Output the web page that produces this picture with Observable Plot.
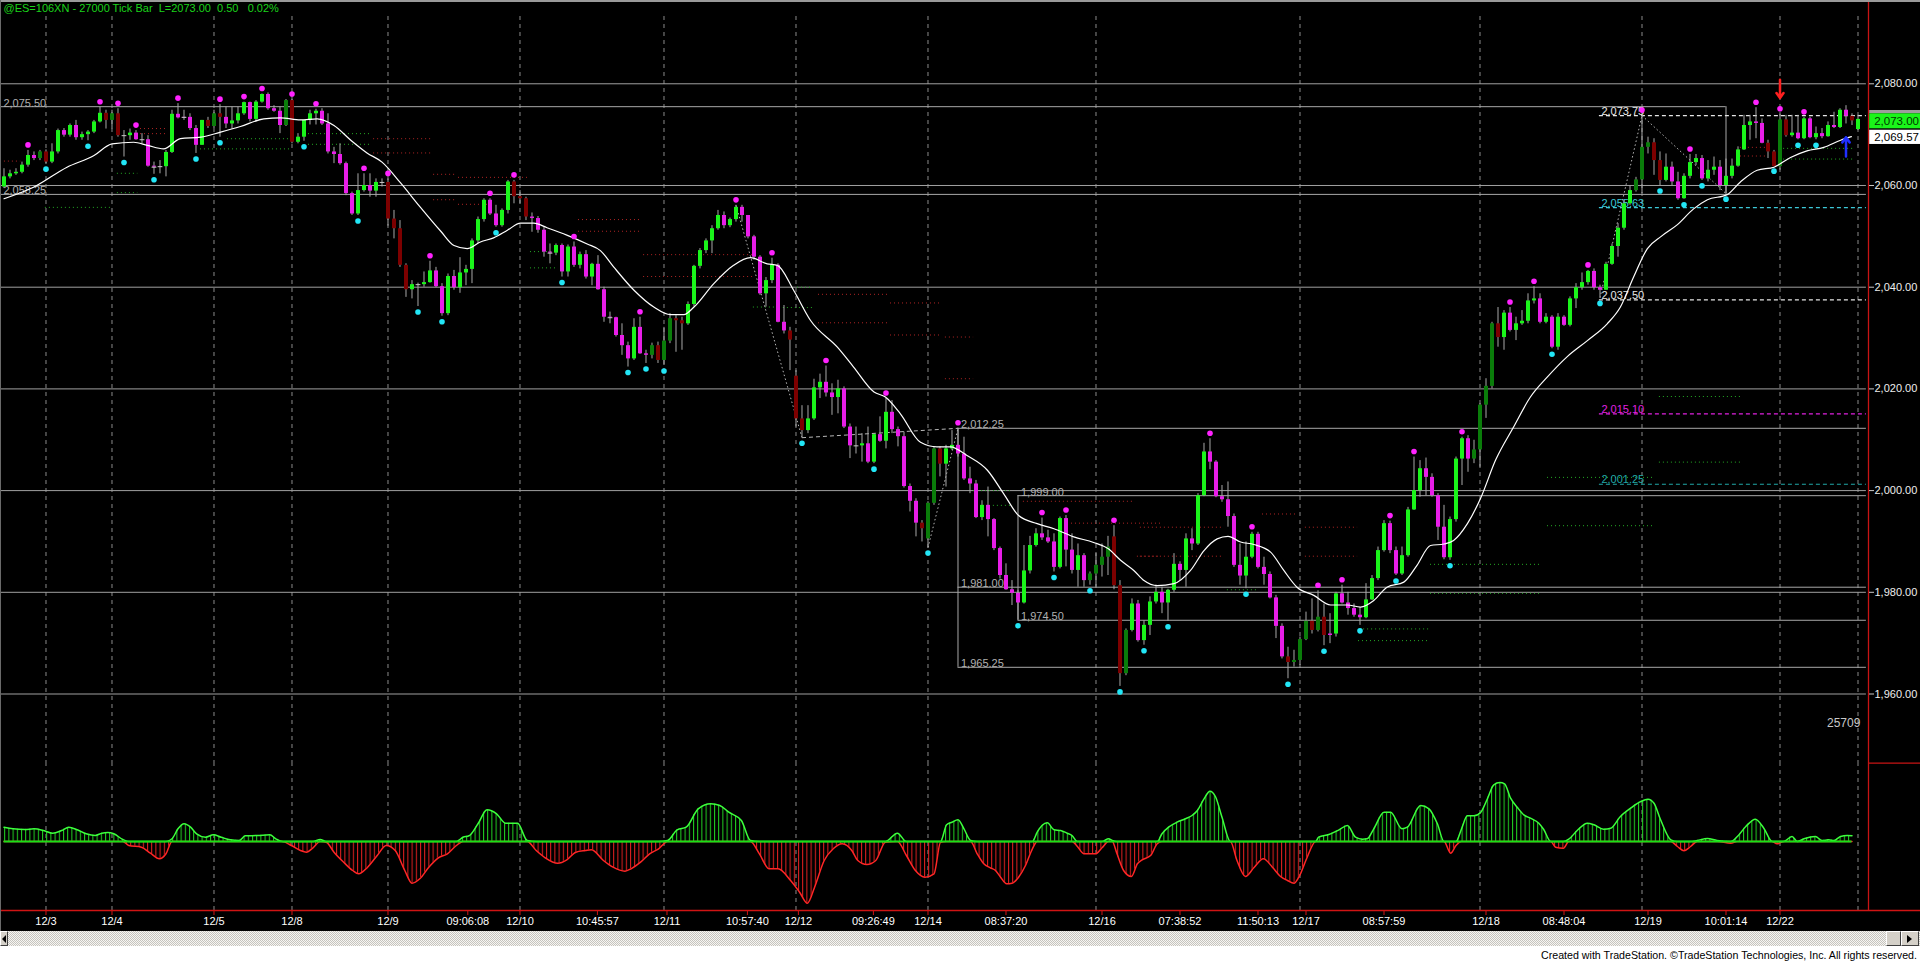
<!DOCTYPE html>
<html>
<head>
<meta charset="utf-8">
<title>@ES=106XN - 27000 Tick Bar</title>
<script src="https://cdn.jsdelivr.net/npm/d3@7"></script>
<script src="https://cdn.jsdelivr.net/npm/@observablehq/plot@0.6"></script>
<style>
  html, body { margin: 0; padding: 0; background: #000; }
  #wrap { position: relative; width: 1920px; height: 962px; background: #000; overflow: hidden; font-family: "Liberation Sans", Arial, sans-serif; }
  #price { position: absolute; left: 0; top: 0; }
  #osc { position: absolute; left: 0; top: 762px; }
  #topline { position: absolute; left: 0; top: 0; width: 1920px; height: 2px; background: #9a9a9a; }
  #leftline { position: absolute; left: 0; top: 0; width: 1px; height: 931px; background: #6a6a6a; }
  #scroll { position: absolute; left: 0; top: 931px; width: 1920px; height: 15px; background-color: #e8e6e0;
            background-image: repeating-conic-gradient(#c6c4be 0% 25%, #f6f5f2 0% 50%); background-size: 2px 2px; }
  .btn { position: absolute; top: 0; height: 13px; background: #d4d0c8; border-top: 1px solid #fff; border-left: 1px solid #fff;
         border-right: 1px solid #404040; border-bottom: 1px solid #404040; box-sizing: content-box; }
  .tri-r { position: absolute; left: 5px; top: 3px; width: 0; height: 0; border-top: 4px solid transparent; border-bottom: 4px solid transparent; border-left: 5px solid #000; }
  .tri-l { position: absolute; left: 1px; top: 3px; width: 0; height: 0; border-top: 4px solid transparent; border-bottom: 4px solid transparent; border-right: 4px solid #000; }
  #foot { position: absolute; left: 0; top: 946px; width: 1920px; height: 16px; background: #fff; }
</style>
</head>
<body>
<div id="wrap">
  <div id="price"></div>
  <div id="osc"></div>
  <div id="topline"></div>
  <div id="leftline"></div>
  <div id="scroll">
    <div class="btn" style="left:0;width:6px;"><div class="tri-l"></div></div>
    <div class="btn" style="left:1886px;width:13px;"></div>
    <div class="btn" style="left:1901px;width:16px;"><div class="tri-r"></div></div>
  </div>
  <div id="foot">
    <svg width="1920" height="16">
      <text x="1917" y="13" text-anchor="end" font-family="Liberation Sans, Arial, sans-serif" font-size="11.5" fill="#000"
            textLength="376" lengthAdjust="spacingAndGlyphs">Created with TradeStation. ©TradeStation Technologies, Inc. All rights reserved.</text>
    </svg>
  </div>
</div>
<script>
// ---------------- DATA ----------------
const titleText = "@ES=106XN - 27000 Tick Bar\u00a0\u00a0L=2073.00\u00a0\u00a00.50\u00a0\u00a0\u00a00.02%";
const lastPrice = 2073.00;
const maLast = 2069.57;
const volumeLabel = "25709";

const opens = [
2059.7,2061.7,2062.3,2062.6,2064.0,2065.9,2065.3,2066.6,2064.6,2066.6,
2070.8,2069.9,2071.8,2069.4,2070.0,2070.5,2072.5,2074.2,2072.8,2074.1,
2069.8,2069.8,2070.3,2069.0,2069.0,2063.8,2063.6,2063.7,2066.5,2074.0,
2073.3,2073.4,2071.2,2067.9,2072.8,2071.6,2074.1,2073.4,2072.1,2072.7,
2074.1,2076.3,2073.0,2076.4,2077.9,2075.1,2074.6,2071.8,2076.7,2068.5,
2069.5,2072.8,2074.1,2074.6,2072.1,2066.6,2066.1,2064.3,2058.4,2054.4,
2059.0,2060.0,2058.9,2060.6,2060.6,2053.4,2051.5,2044.3,2039.5,2040.5,
2040.5,2040.9,2043.2,2040.1,2034.8,2042.1,2039.9,2042.8,2043.5,2049.1,
2053.3,2057.1,2054.4,2052.1,2055.1,2060.7,2057.8,2057.4,2053.8,2053.5,
2051.2,2046.9,2046.7,2048.2,2043.0,2047.9,2044.3,2046.4,2042.0,2044.5,
2039.5,2034.1,2034.0,2030.5,2028.5,2025.9,2032.1,2026.9,2026.6,2028.5,
2025.6,2029.4,2033.8,2033.4,2032.8,2036.6,2044.1,2047.2,2049.1,2051.5,
2054.1,2052.1,2053.3,2055.7,2054.1,2049.9,2045.9,2038.7,2041.3,2044.3,
2033.1,2031.4,2022.5,2014.1,2011.8,2014.1,2020.2,2021.3,2019.2,2018.3,
2020.0,2012.5,2008.8,2008.8,2009.2,2005.6,2011.0,2009.7,2015.4,2012.0,
2010.6,2000.8,1997.9,1993.6,1990.5,1997.5,2008.2,2005.2,2008.2,2008.9,
2007.2,2002.3,2001.3,1994.7,1997.1,1994.3,1988.6,1983.3,1980.5,1979.8,
1977.9,1984.2,1989.2,1991.5,1990.7,1989.9,1984.9,1994.5,1988.3,1984.3,
1987.2,1982.3,1983.6,1985.3,1986.9,1990.9,1981.3,1964.0,1972.5,1977.7,
1970.5,1973.5,1978.1,1980.0,1977.9,1980.4,1985.5,1984.3,1990.5,1989.5,
1999.0,2007.6,2005.6,1998.8,1998.2,1994.9,1985.3,1983.2,1986.9,1991.4,
1984.9,1983.5,1978.9,1973.3,1967.3,1966.2,1966.6,1970.7,1974.3,1972.5,
1975.1,1971.5,1971.8,1979.7,1977.9,1976.8,1975.5,1975.0,1978.5,1982.7,
1988.2,1993.5,1988.2,1983.6,1987.2,1996.2,2000.0,2004.3,2002.6,1999.0,
1992.8,1986.8,1994.3,2006.2,2010.2,2006.2,2008.0,2016.8,2020.5,2032.8,
2030.1,2034.9,2031.5,2032.8,2033.3,2037.3,2037.7,2033.1,2034.1,2028.2,
2034.1,2032.5,2037.7,2039.9,2040.9,2043.1,2039.9,2039.4,2044.5,2048.0,
2051.6,2056.4,2059.0,2061.1,2067.5,2068.4,2064.9,2061.0,2063.6,2060.7,
2057.4,2061.8,2064.5,2065.3,2061.3,2063.0,2063.6,2060.0,2061.8,2063.8,
2067.0,2071.8,2072.5,2072.2,2068.3,2066.6,2063.7,2072.9,2069.8,2070.3,
2069.2,2073.1,2069.4,2070.2,2069.6,2071.8,2071.4,2074.8,2073.6,2071.0];

const highs = [
2063.3,2063.0,2063.3,2064.6,2066.9,2066.6,2066.9,2067.0,2068.2,2071.1,
2071.2,2072.1,2072.8,2070.5,2070.8,2072.8,2075.4,2074.8,2074.8,2075.1,
2070.8,2071.1,2070.8,2070.2,2069.8,2064.6,2064.9,2066.9,2074.8,2076.1,
2074.8,2074.1,2071.8,2072.8,2073.4,2074.8,2075.9,2075.4,2075.4,2075.4,
2076.4,2076.4,2076.7,2078.0,2078.2,2075.7,2075.4,2076.9,2076.9,2070.2,
2072.8,2074.8,2075.0,2075.1,2074.1,2067.5,2068.2,2064.6,2058.7,2062.3,
2062.3,2062.3,2061.3,2061.3,2061.3,2055.1,2053.1,2044.6,2041.3,2040.8,
2043.0,2045.1,2043.9,2040.7,2042.6,2043.3,2045.8,2044.3,2049.5,2053.8,
2057.4,2057.4,2056.1,2055.4,2061.0,2061.0,2059.0,2057.7,2054.6,2053.9,
2051.8,2048.5,2048.5,2048.5,2048.3,2048.9,2046.9,2047.2,2044.7,2046.2,
2040.0,2035.1,2034.1,2032.8,2029.2,2033.8,2034.1,2027.6,2029.0,2029.2,
2032.1,2034.8,2034.4,2034.1,2037.1,2044.3,2047.6,2049.5,2052.1,2055.1,
2054.8,2053.6,2056.1,2056.1,2054.1,2050.2,2046.2,2041.9,2045.7,2044.6,
2036.4,2032.1,2023.6,2016.7,2016.7,2021.9,2022.9,2024.5,2021.0,2021.7,
2020.4,2013.1,2012.5,2011.2,2012.5,2011.2,2014.5,2018.1,2017.7,2012.5,
2011.5,2001.3,1998.4,1994.1,1997.8,2008.6,2008.6,2008.9,2011.8,2012.25,
2010.5,2004.6,2002.0,1998.0,2000.7,1994.5,1988.9,1985.6,1982.3,1980.4,
1989.2,1991.0,1992.5,1994.6,1992.2,1991.5,1994.8,1995.1,1991.5,1989.5,
1987.6,1984.0,1987.6,1989.5,1991.0,1993.1,1982.3,1972.8,1978.7,1978.4,
1974.4,1979.1,1981.4,1981.0,1980.6,1987.6,1986.0,1991.5,1992.5,1999.4,
2009.3,2010.2,2005.9,2001.0,2001.7,1995.4,1989.5,1989.9,1991.8,1991.8,
1986.9,1984.0,1979.4,1973.8,1969.2,1968.6,1971.2,1976.1,1978.7,1980.3,
1977.7,1975.8,1980.0,1981.4,1980.0,1977.7,1977.0,1981.7,1983.3,1988.9,
1994.1,1994.0,1988.9,1988.9,1996.7,2006.6,2005.9,2006.4,2003.3,1999.4,
1997.1,1994.8,2006.6,2010.5,2010.8,2009.9,2017.1,2022.0,2033.1,2036.0,
2035.4,2036.0,2034.1,2035.4,2038.7,2040.1,2038.7,2034.8,2034.4,2034.8,
2034.4,2038.1,2040.7,2042.8,2043.3,2043.6,2040.4,2044.9,2048.5,2052.5,
2057.1,2060.0,2061.6,2073.75,2069.5,2069.2,2066.6,2066.2,2064.6,2062.6,
2062.3,2066.1,2066.1,2065.9,2064.9,2065.6,2064.9,2065.2,2065.2,2067.6,
2073.8,2073.8,2075.3,2073.1,2068.9,2066.9,2074.0,2073.8,2073.8,2073.8,
2073.4,2073.4,2071.5,2071.2,2072.5,2074.4,2075.1,2075.7,2074.1,2073.8];

const lows = [
2059.4,2061.3,2062.0,2062.3,2063.6,2064.9,2064.9,2064.3,2064.3,2066.2,
2069.5,2069.5,2068.9,2068.9,2068.8,2070.2,2072.3,2071.1,2071.1,2069.5,
2065.6,2068.9,2068.9,2068.2,2063.6,2062.2,2062.3,2061.7,2066.3,2073.1,
2072.8,2070.8,2066.3,2067.9,2071.2,2071.2,2069.5,2071.2,2071.1,2072.1,
2073.8,2072.5,2072.5,2076.2,2074.8,2074.4,2070.2,2071.6,2068.2,2068.2,
2068.7,2071.9,2071.9,2071.8,2066.2,2064.3,2064.0,2058.0,2054.1,2054.1,
2058.7,2057.7,2057.7,2059.7,2052.0,2049.5,2043.9,2038.0,2037.7,2036.2,
2040.0,2040.8,2039.9,2034.3,2034.4,2039.4,2038.8,2040.3,2040.7,2048.5,
2052.8,2054.1,2051.8,2051.8,2054.4,2056.4,2056.4,2053.1,2050.8,2050.6,
2045.9,2044.6,2046.2,2042.0,2042.0,2043.9,2043.6,2041.6,2040.3,2039.4,
2033.1,2032.8,2030.2,2026.6,2024.3,2025.6,2026.8,2025.0,2025.9,2025.0,
2024.6,2028.9,2027.2,2027.6,2032.5,2036.1,2043.6,2046.6,2046.6,2051.2,
2051.5,2051.7,2052.8,2052.8,2049.5,2045.3,2038.4,2036.1,2040.7,2033.0,
2030.8,2023.6,2012.5,2010.4,2011.2,2013.8,2018.1,2018.4,2014.8,2015.1,
2012.2,2006.3,2007.2,2005.6,2005.3,2005.3,2009.5,2008.2,2011.2,2008.6,
2000.5,1995.8,1990.9,1989.9,1988.8,1997.1,2002.7,2000.7,2007.9,2006.6,
2002.0,1999.4,1994.5,1994.1,1990.9,1988.2,1982.6,1980.4,1977.4,1974.5,
1977.7,1983.6,1988.9,1990.2,1989.6,1984.0,1984.6,1985.0,1983.6,1981.0,
1981.0,1981.4,1981.0,1983.0,1983.3,1980.5,1961.5,1963.6,1972.2,1970.2,
1969.6,1971.5,1977.7,1975.8,1974.3,1980.0,1982.3,1981.0,1988.2,1989.2,
1998.8,2004.1,1998.6,1997.7,1992.8,1984.9,1981.4,1980.7,1986.6,1984.6,
1981.4,1978.7,1970.9,1966.9,1963.0,1965.3,1965.6,1970.5,1971.8,1972.2,
1969.5,1969.9,1971.2,1977.7,1975.5,1975.1,1973.5,1974.8,1978.4,1982.3,
1987.9,1987.6,1983.3,1983.3,1986.9,1996.1,1998.7,1999.0,1998.7,1990.2,
1986.4,1986.3,1993.8,2001.0,2003.6,2005.3,2004.6,2014.2,2020.0,2028.2,
2027.6,2031.2,2029.5,2032.5,2032.8,2036.7,2032.8,2032.8,2027.9,2027.6,
2032.3,2032.2,2035.8,2039.4,2040.4,2039.4,2037.9,2039.4,2044.3,2045.9,
2051.2,2056.1,2058.7,2058.4,2066.2,2062.0,2060.0,2060.7,2060.0,2057.1,
2057.3,2061.3,2063.9,2061.0,2060.7,2062.0,2059.0,2058.4,2061.3,2063.6,
2066.9,2068.9,2069.2,2068.2,2065.3,2063.9,2063.0,2069.5,2069.5,2069.0,
2069.0,2069.2,2069.0,2069.2,2069.5,2071.2,2071.2,2072.1,2071.8,2070.8];

const closes = [
2061.7,2062.3,2062.6,2064.0,2065.9,2065.3,2066.6,2064.6,2066.6,2070.8,
2069.9,2071.8,2069.4,2070.0,2070.5,2072.5,2074.2,2072.8,2074.1,2069.8,
2069.8,2070.3,2069.0,2069.0,2063.8,2063.6,2063.7,2066.5,2074.0,2073.3,
2073.4,2071.2,2067.9,2072.8,2071.6,2074.1,2073.4,2072.1,2072.7,2074.1,
2076.3,2073.0,2076.4,2077.9,2075.1,2074.6,2071.8,2076.7,2068.5,2069.5,
2072.8,2074.1,2074.6,2072.1,2066.6,2066.1,2064.3,2058.4,2054.4,2059.0,
2060.0,2058.9,2060.6,2060.6,2053.4,2051.5,2044.3,2039.5,2040.5,2040.5,
2040.9,2043.2,2040.1,2034.8,2042.1,2039.9,2042.8,2043.5,2049.1,2053.3,
2057.1,2054.4,2052.1,2055.1,2060.7,2057.8,2057.4,2053.8,2053.5,2051.2,
2046.9,2046.7,2048.2,2043.0,2047.9,2044.3,2046.4,2042.0,2044.5,2039.5,
2034.1,2034.0,2030.5,2028.5,2025.9,2032.1,2026.9,2026.6,2028.5,2025.6,
2029.4,2033.8,2033.4,2032.8,2036.6,2044.1,2047.2,2049.1,2051.5,2054.1,
2052.1,2053.3,2055.7,2054.1,2049.9,2045.9,2038.7,2041.3,2044.3,2033.1,
2031.4,2029.6,2014.1,2011.8,2014.1,2020.2,2021.3,2019.2,2018.3,2020.0,
2012.5,2008.8,2008.8,2009.2,2005.6,2011.0,2009.7,2015.4,2012.0,2010.6,
2000.8,1997.9,1993.6,1992.5,1997.5,2008.2,2005.2,2008.2,2008.9,2007.2,
2002.3,2001.3,1994.7,1997.1,1994.3,1988.6,1983.3,1980.5,1979.8,1977.9,
1984.2,1989.2,1991.5,1990.7,1989.9,1984.9,1994.5,1988.3,1984.3,1987.2,
1982.3,1983.6,1985.3,1986.9,1988.9,1981.3,1964.0,1972.5,1977.7,1970.5,
1973.5,1978.1,1980.0,1977.9,1980.4,1985.5,1984.3,1990.5,1989.5,1999.0,
2007.6,2005.6,1998.8,1998.2,1994.9,1985.3,1983.2,1986.9,1991.4,1984.9,
1983.5,1978.9,1973.3,1967.3,1966.2,1966.6,1970.7,1974.3,1972.5,1975.1,
1971.5,1971.8,1979.7,1977.9,1976.8,1975.5,1975.0,1978.5,1982.7,1988.2,
1993.5,1988.2,1983.6,1987.2,1996.2,2000.0,2004.3,2002.6,1999.0,1992.8,
1986.8,1994.3,2006.2,2010.2,2006.2,2008.0,2016.8,2020.5,2032.8,2030.1,
2034.9,2031.5,2032.8,2033.3,2037.3,2037.7,2033.1,2034.1,2028.2,2034.1,
2032.5,2037.7,2039.9,2040.9,2043.1,2039.9,2039.4,2044.5,2048.0,2051.6,
2056.4,2059.0,2061.1,2067.5,2068.4,2064.9,2061.0,2063.6,2060.7,2057.4,
2061.8,2064.5,2065.3,2061.3,2063.0,2063.6,2060.0,2061.8,2063.8,2067.0,
2071.8,2072.5,2072.2,2068.3,2066.6,2063.7,2072.9,2069.8,2070.3,2069.2,
2073.1,2069.4,2070.2,2069.6,2071.8,2071.4,2074.8,2073.6,2072.7,2073.0];

// candle colour codes: G bright green, M magenta, g dark green, r dark red
const candleColorRows = [
"GGGGGMgrGG","MGMGGGGrgr","MGMMMMMGGM","MMMGrgrMGG","GMGGMMMgrG",
"GGGMMMMMMG","GMGMrrrrGM","GGMMGMGGGG","GMMGGrrrMM","MMGMGMGMGM",
"MMMMMGMMgr","ggrrGGGGGG","MGGMMMMGGM","MrrrGGGMMG","MMMGMGMGMM",
"MMMrggrGGM","MMMGMMMMMM","GGGMMMGMMG","MggggrrgGM","GGGMGGMGMG",
"GMMMMMMGGM","MMMMrgggrg","rMGMMMMGGG","GMMGGGGMMM","MGGGMggggr",
"GMGGGGMGMG","MGGGGMMGGG","GGgggrrGMM","GGGMGGMGGG","GGMMrrgrGM",
"GMGMGMGMrG"];

// swing-high (magenta) and swing-low (cyan) marker bars
const swingHighBars = [4,16,19,22,29,36,40,43,48,52,60,64,71,81,85,95,106,122,128,137,147,159,173,177,185,201,208,219,223,231,235,243,251,255,264,273,281,292,296,300];
const swingLowBars = [7,14,20,25,32,36,50,59,69,73,82,93,104,107,110,133,145,154,169,175,181,186,190,194,207,214,220,226,232,241,258,266,276,280,283,287,295,299,302];

// white moving average [bar, price]
const movingAverage = [
[0,2057.4],[5,2059.7],[10.5,2063.6],[15,2065.9],[18,2068.2],[21.6,2068.5],[23.9,2067.9],[26.6,2067.2],[29.4,2069.2],[32.8,2069.5],
[36.1,2070.5],[39.4,2071.6],[43.3,2073.1],[46.1,2073.3],[49.4,2072.9],[52.2,2073.1],[55,2071.8],[57.8,2068.9],[60.5,2066.4],[63,2064.6],
[66.1,2060.5],[69.2,2056],[72.8,2051],[75,2048.2],[77.2,2047.6],[79.4,2048.9],[81.6,2049.7],[83.9,2051.2],[86.1,2052.6],[88.3,2052.6],
[90.5,2051.7],[93.9,2050.2],[97.2,2048.5],[99.4,2047.2],[101.6,2044],[105,2039.4],[108.3,2036.1],[111.1,2034.6],[113.3,2034.6],[115,2036.1],
[118.3,2040.7],[121.6,2044.3],[124.4,2045.8],[127.2,2044.6],[128.9,2044.3],[131.6,2039.4],[134.4,2033.5],[138.9,2028.2],[141.6,2024.3],[145,2019.4],
[146.9,2018.4],[149.4,2015.1],[152.75,2009.5],[155.5,2008.6],[157.75,2008.6],[160.5,2006.9],[163.9,2004],[166.6,1999.4],[169.1,1995.1],[172.2,1993.5],
[175,1992.5],[178.3,1990.9],[181.6,1989.8],[184,1988.6],[186.1,1986.3],[188.3,1984.3],[190,1982.3],[192.2,1981.3],[195,1981.7],[197.75,1984.3],
[200,1988.2],[202.2,1990.5],[204,1991],[206.1,1989.9],[208.3,1989.4],[211.1,1987.9],[213.3,1984.3],[215.5,1981],[218.3,1979.4],[221.1,1977.5],
[223.9,1977.5],[226.1,1977.1],[228.3,1978.4],[230.5,1981],[233.3,1982],[235.5,1985.3],[237.75,1989.2],[240,1989.5],[241.6,1990.2],[243.9,1993.5],
[246.1,1998.5],[248.6,2006],[251.6,2012.5],[254.4,2018.4],[257.2,2022.3],[260.5,2026.3],[263.9,2029.5],[267.2,2032.8],[269.4,2036.1],[271.6,2042],
[273.9,2047.6],[276.2,2050],[278.8,2052.2],[281.6,2055.4],[283.9,2057.2],[287.2,2058.2],[289.4,2060.7],[292.2,2063],[295,2063.6],[297.75,2065.5],
[300.5,2066.8],[303.3,2067.5],[306.1,2068.9],[307.9,2069.6]];

// oscillator [bar, value]
const oscillator = [
[0,14.3],[1.5,12.7],[3.5,12],[5,12.7],[6.6,11],[8.1,8.3],[9.6,11],[10.8,14.3],[12.2,11.7],[13.7,7.7],[15.2,6],[16.3,8.3],[17.3,9],[18.3,7.7],
[19.8,2],[20.8,-4],[22.9,-5.7],[24.4,-11.7],[25.9,-17.3],[27,-12.3],[28,2.7],[29,12.7],[30,17.7],[31.1,14.3],[32.1,7.7],[33.6,4.3],[34.9,6.7],
[36.2,4.3],[37.7,1.7],[39.2,1],[40.2,5.7],[42.3,6],[44.3,6.7],[45.3,2.7],[46.4,0],[47.9,-4],[49.4,-9],[50.4,-10.7],[51.5,-6.3],[52.7,2],[53.7,-0.7],
[55,-10.7],[56.6,-20.7],[58.1,-29],[59.1,-32.3],[60.6,-25.7],[62.2,-14],[63.7,-4],[65.2,-9],[66.8,-29],[68,-41.7],[69.3,-37.3],[70.8,-25.7],
[72.4,-16.3],[73.9,-12.3],[75.4,-4],[76.5,4.3],[77.5,5.7],[79,17.7],[80.5,31.7],[82.1,27.7],[83.6,18.3],[85.6,18.3],[87.2,1],[88.7,-9],[90.2,-16.3],
[92.3,-21.7],[93.8,-18.3],[95.3,-10.7],[96.9,-9],[97.9,-8.3],[99.9,-19],[101.5,-25.7],[103.5,-29.7],[104.5,-27.3],[106.1,-20.7],[107.6,-12.3],
[109.1,-7.3],[110.6,1],[112.2,11.7],[113.7,14.3],[115.7,32.7],[117.8,37.7],[119.3,36],[120.8,29.3],[122.9,21],[124.4,1],[125.9,-12.3],[127.5,-27.3],
[129,-27.3],[131.1,-39],[132.6,-50.7],[133.9,-61.7],[135.1,-45.7],[136.7,-19],[138.2,-7.3],[139.7,-2.3],[141.3,-9],[142.3,-19],[143.8,-23],[145.3,-19],
[146.9,-0.7],[148.9,8.3],[150.4,-14],[151.9,-29],[153.5,-35.7],[155,-32.3],[156.1,-0.7],[157.1,16.7],[158,19.3],[159,21.7],[160,12.7],[161.1,1],
[162.2,-12.3],[163.3,-22.3],[164.4,-26.3],[165.25,-29],[166.1,-35.7],[167.1,-42.3],[168,-41.7],[169.1,-35.7],[170.25,-24],[171.4,-7.3],[172.2,9.3],
[173,16],[173.9,18.7],[175,11.7],[176.1,11],[177.2,8.3],[178,6],[178.9,-5],[180,-12.3],[181.9,-12.3],[183,-6.3],[184.1,2.7],[184.7,1],[185.5,-12.3],
[186.6,-29],[187.9,-35],[188.9,-22.3],[189.7,-18.3],[191.1,-14],[192.2,-2.3],[193,7.7],[194.1,14.3],[195.5,19.3],[196.9,22.7],[198,26],[198.9,31],
[200,42.7],[201,50.3],[201.9,45],[203,24.3],[204.4,0],[205.5,-19],[206.9,-35],[208.3,-26.3],[209.9,-17.3],[211.4,-25.7],[212.75,-35],[213.9,-39],
[215,-41.7],[215.8,-35.7],[217.2,-15.7],[218.6,0],[219.1,4.3],[220.8,7],[222.5,11.7],[223.9,16],[225.25,4.3],[226.4,2.3],[227.2,2.7],[228.3,12.7],
[230,29.3],[231.1,29.3],[233,12.7],[233.9,14.3],[236.1,36],[237.5,32.7],[238.9,17.7],[240,0],[241.1,-11.7],[242,-4],[242.9,12.3],[243.9,25.7],
[245,25.7],[246.1,29],[247.2,42.3],[248.3,56.7],[249.3,59],[250.1,57.7],[251.1,43.3],[252.2,34.3],[253.3,26.7],[254.4,23.3],[255.8,18.3],[256.6,12.3],
[257.8,0],[258.6,-5.7],[259.9,-6.7],[260.8,2.3],[262.2,11],[263.9,18.3],[265,16.7],[266.6,12.3],[267.8,13.3],[269.4,25],[271.1,33.3],[272.8,40],
[274,42.3],[275,38.3],[276.1,21.7],[277.8,1.7],[278.9,-5],[280,-9.3],[281.1,-5],[282.2,1],[283.9,3],[285.5,1],[287.8,-1.7],[288.9,5],[290.3,15],
[291.9,22.3],[293.3,13.3],[294.7,0],[295.5,-2.3],[296.6,0],[298,5],[298.9,0],[300,2.7],[301.9,5],[303,1],[304.1,1.7],[305,1],[306.1,5],[307.2,6],[308,5.7]];

// horizontal price grid and right-axis ticks
const gridPrices = [2080, 2060, 2040, 2020, 2000, 1980, 1960];
// solid support/resistance levels
const levelPrices = [2075.5, 2058.25, 2012.25, 1999.0, 1981.0, 1974.5, 1965.25];
const levelStartBar = [-0.6, -0.6, 159, 169, 159, 169, 159];
const levelEndBar = [287, 310.4, 310.4, 310.4, 310.4, 310.4, 310.4];
const levelLabels = ["2,075.50", "2,058.25", "2,012.25", "1,999.00", "1,981.00", "1,974.50", "1,965.25"];
// vertical box edges [bar, low price, high price]
const boxEdges = [[287, 2058.25, 2075.5], [159, 1965.25, 2012.25], [169, 1974.5, 1999.0]];
// dashed projection levels
const projPrices = [2073.75, 2055.63, 2037.50, 2015.10, 2001.25];
const projLabels = ["2,073.75", "2,055.63", "2,037.50", "2,015.10", "2,001.25"];
const projColors = ["#e6e6e6", "#3cc8d8", "#e6e6e6", "#e020e0", "#20a8a8"];
const projStartBar = 265.9;
const projEndBar = 310.4;

// short dotted pivot segments [startBar, endBar, price, colour code]
const pivotSegments = [
[-0.6,2.8,2064.8,"r"],[18.9,22.3,2062.4,"g"],[18.9,22.3,2058.6,"g"],[6.9,18.1,2055.7,"g"],[22.75,27.25,2071.2,"r"],[22.75,27.25,2070.2,"r"],
[37.25,47.75,2069.2,"g"],[32.75,47.75,2067.2,"g"],[50.75,61.4,2070.2,"g"],[50.75,61.4,2068.1,"g"],[61.6,71.1,2069.2,"r"],[61.6,71.1,2066.4,"r"],
[71.6,75.6,2062.2,"r"],[75.75,87.25,2061.6,"r"],[71.6,75.6,2057.2,"r"],[75.75,80.6,2056.3,"r"],[95.75,106.1,2053.3,"r"],[95.75,106.1,2051.0,"r"],
[87.75,92.25,2047.0,"g"],[87.75,92.25,2043.8,"g"],[106.6,124.9,2046.4,"r"],[106.6,124.9,2042.1,"r"],[124.9,129.4,2036.1,"g"],[132.25,134.9,2040.0,"g"],
[129.9,134.9,2036.0,"g"],[135.75,147.25,2038.6,"r"],[135.75,147.25,2033.0,"r"],[147.75,156.4,2036.9,"r"],[147.75,156.4,2030.6,"r"],[156.9,161.6,2030.2,"r"],
[156.9,161.6,2022.0,"r"],[161.6,167.75,2000.0,"g"],[164.9,168.25,1997.1,"g"],[169.9,188.25,1997.9,"r"],[177.25,192.75,1993.6,"r"],[188.9,192.75,1987.1,"r"],
[209.75,215.25,1995.4,"r"],[189.4,203.25,1992.8,"r"],[216.9,225.6,1992.8,"r"],[189.4,203.25,1987.1,"r"],[216.9,225.6,1987.1,"r"],[203.9,209.1,1980.5,"g"],
[226.6,237.75,1972.8,"g"],[225.75,237.25,1970.5,"g"],[237.75,256.1,1985.5,"g"],[237.75,256.1,1979.8,"g"],[257.25,275.25,1993.1,"g"],[257.25,275.25,2002.6,"g"],
[275.9,289.75,2018.5,"g"],[275.9,289.75,2005.6,"g"],[289.4,293.6,2067.5,"r"],[289.4,293.6,2065.8,"r"],[296.6,308.25,2067.3,"g"],[296.6,308.25,2065.2,"g"]];

// zigzag swing connections [fromBar, fromKind, toBar, toKind, dashed]
const zigzag = [[122,"h",133,"l",0],[133,"l",159,"h",1],[154,"l",159,"h",0],[266,"l",273,"h",0],[273,"h",287,"l",0]];

// signal arrows [bar, fromPrice, toPrice, colour]
const signalArrows = [[296, 2080.8, 2077.2, "#ff2020"], [307, 2065.7, 2069.5, "#2030ff"]];

// session grid and time-axis labels
const gridBars = [7, 18, 35, 48, 64, 86, 110, 132, 154, 182, 216, 246, 273, 296, 309];
const axisBars = [7, 18, 35, 48, 64, 77.3, 86, 98.9, 110.5, 123.9, 132.4, 144.9, 154, 167, 183, 196, 209, 217, 230, 247, 260, 274, 287, 296];
const axisLabels = ["12/3","12/4","12/5","12/8","12/9","09:06:08","12/10","10:45:57","12/11","10:57:40","12/12","09:26:49","12/14","08:37:20","12/16","07:38:52","11:50:13","12/17","08:57:59","12/18","08:48:04","12/19","10:01:14","12/22"];

// ---------------- BUILD ----------------
const xDomain = [-0.5833, 310.75];
const priceDomain = [1946.53, 2096.38];
const font = "'Liberation Sans', Arial, sans-serif";
const colorCodes = candleColorRows.join("");
const bars = closes.map((c, i) => ({i, o: opens[i], h: highs[i], l: lows[i], c, k: colorCodes[i]}));
const bodyColors = {G: "#1af51a", M: "#e81ee8", g: "#0a7d0a", r: "#7d0000"};
const fmt = d3.format(",.2f");

const levels = levelPrices.map((p, j) => ({p, a: levelStartBar[j], b: levelEndBar[j], t: levelLabels[j]}));
const boxes = boxEdges.map(([x, y1, y2]) => ({x, y1, y2}));
const projections = projPrices.map((p, j) => ({p, t: projLabels[j], color: projColors[j]}));
const pivots = pivotSegments.map(([a, b, p, c]) => ({a, b, p, c}));
const zig = zigzag.map(([i1, k1, i2, k2, dash]) => ({
  x1: i1, y1: k1 === "h" ? highs[i1] : lows[i1],
  x2: i2, y2: k2 === "h" ? highs[i2] : lows[i2], dash}));
const ma = movingAverage.map(([b, p]) => ({b, p}));
const osc = oscillator.map(([b, v]) => ({b, v}));
const arrows = signalArrows.map(([b, from, to, color]) => ({b, from, to, color}));
const labelMap = new Map(axisBars.map((b, j) => [b, axisLabels[j]]));

const bodyMarks = Object.entries(bodyColors).map(([k, col]) =>
  Plot.ruleX(bars.filter(d => d.k === k), {x: "i", y1: "o", y2: "c", stroke: col, strokeWidth: 4}));

const pricePlot = Plot.plot({
  width: 1920, height: 762,
  marginLeft: 0, marginRight: 52, marginTop: 0, marginBottom: 0,
  style: {background: "#000", color: "#e0e0e0", fontFamily: font, fontSize: "11px", overflow: "visible"},
  x: {domain: xDomain, axis: null},
  y: {domain: priceDomain},
  marks: [
    Plot.ruleX(gridBars, {stroke: "#8a8a8a", strokeDasharray: "4,4", insetTop: 16}),
    Plot.ruleY(gridPrices, {x1: -0.6, x2: 310.4, stroke: "#a0a0a0"}),
    Plot.ruleY(levels, {y: "p", x1: "a", x2: "b", stroke: "#a8a8a8"}),
    Plot.ruleX(boxes, {x: "x", y1: "y1", y2: "y2", stroke: "#a8a8a8"}),
    Plot.text(levels, {x: "a", y: "p", text: "t", dx: 3, textAnchor: "start", lineAnchor: "bottom", fill: "#b0b0b0", fontSize: 11}),
    Plot.ruleY(pivots.filter(d => d.c === "r"), {y: "p", x1: "a", x2: "b", stroke: "#b02424", strokeDasharray: "1,3"}),
    Plot.ruleY(pivots.filter(d => d.c === "g"), {y: "p", x1: "a", x2: "b", stroke: "#24a824", strokeDasharray: "1,3"}),
    ...projections.map(d => Plot.ruleY([d], {y: "p", x1: projStartBar, x2: projEndBar, stroke: d.color, strokeDasharray: "4,3", strokeWidth: 1.2})),
    ...projections.map(d => Plot.text([d], {x: projStartBar, y: "p", text: "t", dx: 2, dy: -1, textAnchor: "start", lineAnchor: "bottom", fill: d.color, fontSize: 11})),
    Plot.link(zig.filter(d => !d.dash), {x1: "x1", y1: "y1", x2: "x2", y2: "y2", stroke: "#b8b8b8", strokeDasharray: "1.5,2.5"}),
    Plot.link(zig.filter(d => d.dash), {x1: "x1", y1: "y1", x2: "x2", y2: "y2", stroke: "#b8b8b8", strokeDasharray: "4,3"}),
    Plot.ruleX(bars, {x: "i", y1: "l", y2: "h", stroke: "#a8a8a8"}),
    ...bodyMarks,
    Plot.link(bars.filter(d => Math.abs(d.o - d.c) < 0.25), {x1: d => d.i - 0.4, x2: d => d.i + 0.4, y1: "c", y2: "c", stroke: "#c8c8c8"}),
    Plot.line(ma, {x: "b", y: "p", stroke: "#ffffff", strokeWidth: 1.2, curve: "monotone-x"}),
    Plot.dot(swingHighBars.map(i => bars[i]), {x: "i", y: "h", dy: -5.5, r: 2.8, fill: "#ff22ff"}),
    Plot.dot(swingLowBars.map(i => bars[i]), {x: "i", y: "l", dy: 5.5, r: 2.8, fill: "#22e6f6"}),
    ...arrows.map(d => Plot.arrow([d], {x1: "b", x2: "b", y1: "from", y2: "to", stroke: d.color, strokeWidth: 2.5, headLength: 6, headAngle: 70})),
    Plot.ruleX([xDomain[1]], {stroke: "#c81414", strokeWidth: 1.3}),
    Plot.axisY({anchor: "right", ticks: gridPrices, tickFormat: fmt, tickSize: 5, tickPadding: 1, stroke: "#c8c8c8", fill: "#eeeeee", fontSize: 11, label: null}),
    Plot.rect([lastPrice], {x1: 310.95, x2: 320, y1: d => d + 1.1, y2: d => d + 1.75, fill: "#9c9c9c"}),
    Plot.rect([lastPrice], {x1: 310.95, x2: 320, y1: d => d - 1.85, y2: d => d + 1.1, fill: "#1af51a"}),
    Plot.text([lastPrice], {x: 311.7, y: d => d - 0.37, text: d => fmt(d), textAnchor: "start", fill: "#003800", fontSize: 11.5}),
    Plot.rect([maLast], {x1: 310.95, x2: 320, y1: d => d - 1.5, y2: d => d + 1.3, fill: "#ffffff"}),
    Plot.text([maLast], {x: 311.7, y: d => d - 0.15, text: d => fmt(d), textAnchor: "start", fill: "#000", fontSize: 11.5}),
    Plot.text([titleText], {frameAnchor: "top-left", dx: 3, dy: 4, lineAnchor: "top", textAnchor: "start", fill: "#1ad41a", fontSize: 11}),
    Plot.text([volumeLabel], {x: 309.4, y: 1954.3, textAnchor: "end", fill: "#c8c8c8", fontSize: 12})
  ]
});
document.getElementById("price").appendChild(pricePlot);

const oscPlot = Plot.plot({
  width: 1920, height: 169,
  marginLeft: 0, marginRight: 52, marginTop: 0, marginBottom: 21,
  style: {background: "#000", color: "#e0e0e0", fontFamily: font, fontSize: "11px", overflow: "visible"},
  x: {domain: xDomain},
  y: {domain: [-69, 79], axis: null},
  marks: [
    Plot.ruleX(gridBars, {stroke: "#8a8a8a", strokeDasharray: "4,4"}),
    Plot.areaY(osc, {x: "b", y1: 0, y2: d => Math.max(0, d.v), fill: "url(#hatchG)", curve: "monotone-x"}),
    Plot.areaY(osc, {x: "b", y1: 0, y2: d => Math.min(0, d.v), fill: "url(#hatchR)", curve: "monotone-x"}),
    Plot.line(osc, {x: "b", y: d => Math.min(0, d.v), stroke: "#ff2626", curve: "monotone-x"}),
    Plot.line(osc, {x: "b", y: d => Math.max(0, d.v), stroke: "#3cff3c", curve: "monotone-x"}),
    Plot.ruleY([0], {x1: osc[0].b, x2: osc[osc.length - 1].b, stroke: "#18e018", strokeWidth: 2}),
    Plot.ruleY([-69], {x1: -1, x2: 330, stroke: "#d01414", strokeWidth: 1.3}),
    Plot.ruleX([xDomain[1]], {stroke: "#c81414", strokeWidth: 1.3}),
    Plot.ruleY([78.4], {x1: xDomain[1], x2: 330, stroke: "#c81414", strokeWidth: 1.3}),
    Plot.axisX({anchor: "bottom", ticks: axisBars, tickFormat: d => labelMap.get(d), tickSize: 5, tickPadding: 2,
                stroke: "#d01414", fill: "#ffffff", fontSize: 11, label: null})
  ]
});
const ns = "http://www.w3.org/2000/svg";
const defs = document.createElementNS(ns, "defs");
[["hatchG", "#22d422"], ["hatchR", "#e42020"]].forEach(([id, col]) => {
  const p = document.createElementNS(ns, "pattern");
  p.setAttribute("id", id);
  p.setAttribute("patternUnits", "userSpaceOnUse");
  p.setAttribute("width", "4.2");
  p.setAttribute("height", "8");
  const r = document.createElementNS(ns, "rect");
  r.setAttribute("x", "0"); r.setAttribute("y", "0");
  r.setAttribute("width", "1"); r.setAttribute("height", "8");
  r.setAttribute("fill", col);
  p.appendChild(r);
  defs.appendChild(p);
});
oscPlot.insertBefore(defs, oscPlot.firstChild);
document.getElementById("osc").appendChild(oscPlot);
</script>
</body>
</html>
